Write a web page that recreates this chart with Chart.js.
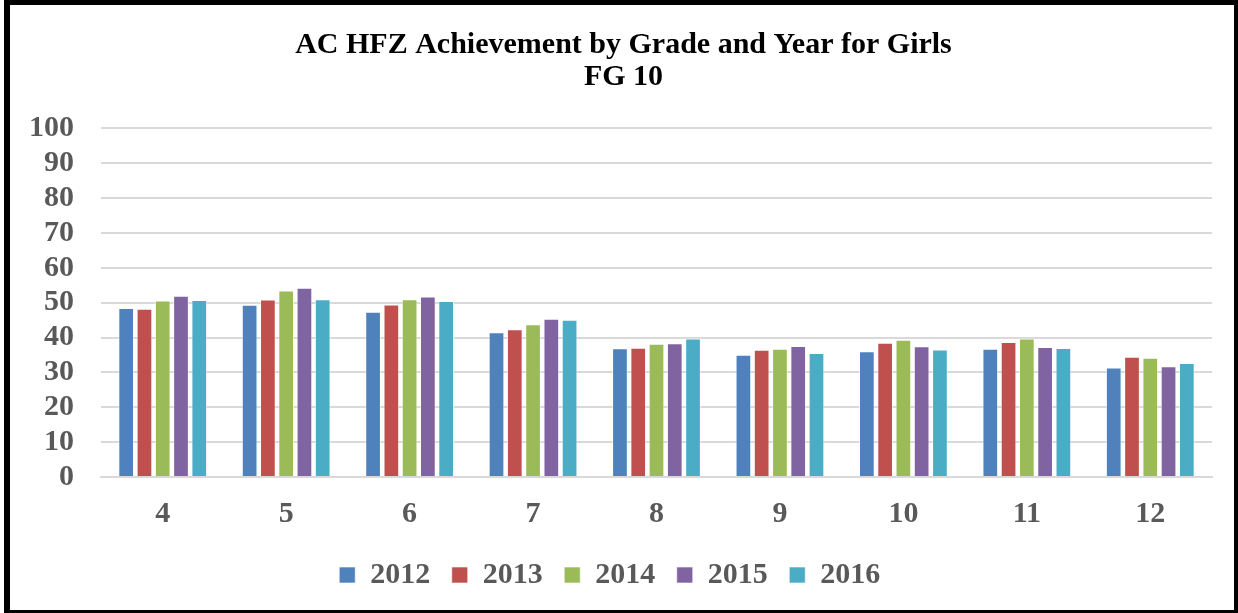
<!DOCTYPE html>
<html>
<head>
<meta charset="utf-8">
<script src="https://cdn.jsdelivr.net/npm/chart.js@4.4.1/dist/chart.umd.min.js"></script>
<style>
    html, body { margin: 0; padding: 0; background: #fff; }
    .frame {
        position: absolute;
        left: 4px; top: 0;
        width: 1224px; height: 605px;
        border-left: 6px solid #000;
        border-top: 5px solid #000;
        border-right: 4px solid #000;
        border-bottom: 3px solid #000;
    }
    .wrap { position: absolute; left: 0; top: 0; width: 1238px; height: 613px; }
</style>
</head>
<body>
<div class="frame"></div>
<div class="wrap"><canvas id="hfzChart" width="1238" height="613"></canvas></div>
<script>
// Chart Data
const grades = ['4', '5', '6', '7', '8', '9', '10', '11', '12'];
const years = ['2012', '2013', '2014', '2015', '2016'];
const values2012 = [48.5, 49.4, 47.4, 41.5, 36.9, 35.1, 36.1, 36.8, 31.4];
const values2013 = [48.3, 50.9, 49.5, 42.4, 37.1, 36.5, 38.5, 38.7, 34.5];
const values2014 = [50.6, 53.5, 51.0, 43.8, 38.2, 36.8, 39.4, 39.7, 34.2];
const values2015 = [52.0, 54.3, 51.8, 45.4, 38.4, 37.6, 37.5, 37.3, 31.8];
const values2016 = [50.8, 51.0, 50.5, 45.1, 39.7, 35.6, 36.6, 37.0, 32.7];
const yearColors = ['#4F81BD', '#C0504D', '#9BBB59', '#8064A2', '#4BACC6'];

const serif = '"Liberation Serif", "Times New Roman", serif';
const allValues = [values2012, values2013, values2014, values2015, values2016];

const ctx = document.getElementById('hfzChart').getContext('2d');
new Chart(ctx, {
    type: 'bar',
    data: {
        labels: grades,
        datasets: years.map((y, i) => ({
            label: y,
            data: allValues[i],
            backgroundColor: yearColors[i],
            borderColor: 'rgba(255, 255, 255, 0.6)',
            borderWidth: 1,
            categoryPercentage: 0.74,
            barPercentage: 0.86
        }))
    },
    options: {
        responsive: false,
        animation: false,
        layout: {
            padding: { top: 18, right: 26, bottom: 13, left: 20 }
        },
        plugins: {
            title: {
                display: true,
                // en space in front nudges the lines to the frame's centre
                text: ['\u2002AC HFZ Achievement by Grade and Year for Girls', '\u2002FG 10'],
                color: '#000',
                font: { family: serif, size: 30, weight: 'bold', lineHeight: 1.04 },
                padding: { top: 12, bottom: 36 }
            },
            legend: {
                position: 'bottom',
                labels: {
                    color: '#595959',
                    boxWidth: 16,
                    boxHeight: 16,
                    padding: 9,
                    font: { family: serif, size: 30, weight: 'bold' },
                    generateLabels: function (chart) {
                        const items = Chart.defaults.plugins.legend.labels.generateLabels(chart);
                        // a bit of extra room after each year, like the original spacing
                        items.forEach(it => { it.text = it.text + '\u2004\u200A'; });
                        return items;
                    }
                }
            },
            tooltip: { enabled: false }
        },
        scales: {
            y: {
                min: 0,
                max: 100,
                ticks: {
                    stepSize: 10,
                    autoSkip: false,
                    padding: 27,
                    color: '#595959',
                    font: { family: serif, size: 30, weight: 'bold' }
                },
                grid: {
                    color: '#d9d9d9',
                    lineWidth: 2,
                    drawTicks: false
                },
                border: { display: false },
                afterFit: function (scale) {
                    scale.width = 81;
                }
            },
            x: {
                ticks: {
                    padding: 19,
                    color: '#595959',
                    font: { family: serif, size: 30, weight: 'bold' }
                },
                grid: {
                    display: false,
                    drawTicks: false
                },
                border: { color: '#d9d9d9', width: 2 }
            }
        }
    }
});
</script>
</body>
</html>
